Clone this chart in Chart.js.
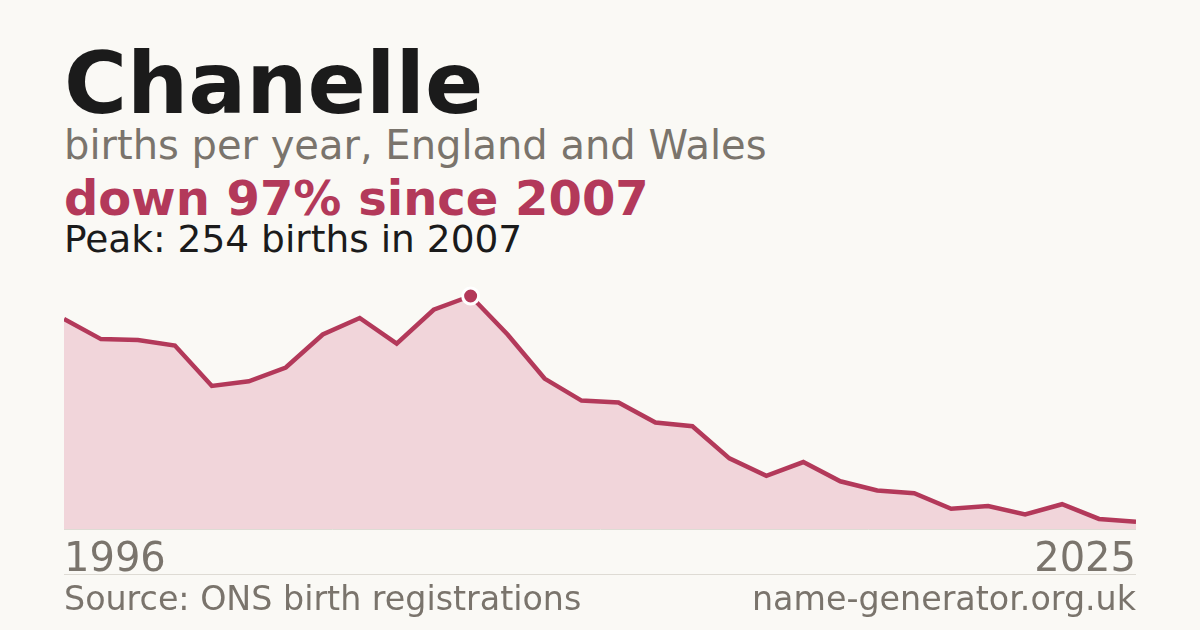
<!DOCTYPE html>
<html>
<head>
<meta charset="utf-8">
<script src="https://cdn.jsdelivr.net/npm/chart.js@4"></script>
<style>
  body { margin:0; width:1200px; height:630px; background:#faf9f5; font-family:"DejaVu Sans", sans-serif; overflow:hidden; position:relative; }
  .t { position:absolute; left:64px; white-space:nowrap; line-height:1; }
  #title { top:40px; font-size:86px; font-weight:bold; color:#1b1b1b; }
  #sub { top:125px; font-size:40px; color:#7a746c; }
  #change { top:174px; font-size:48px; font-weight:bold; color:#b3395a; }
  #peak { top:221px; font-size:37.5px; color:#1b1b1b; }
  #wrap { position:absolute; left:64px; top:280px; width:1072px; height:305px; }
  #rule { position:absolute; left:64px; top:574px; width:1072px; height:1px; background:#dedbd4; }
  #src { top:582px; font-size:33.3px; color:#7a746c; }
  #site { top:582px; left:auto; right:64px; font-size:33.3px; color:#7a746c; }
</style>
</head>
<body>
<div class="t" id="title">Chanelle</div>
<div class="t" id="sub">births per year, England and Wales</div>
<div class="t" id="change">down 97% since 2007</div>
<div class="t" id="peak">Peak: 254 births in 2007</div>
<div id="wrap"><canvas id="chart1"></canvas></div>
<div id="rule"></div>
<div class="t" id="src">Source: ONS birth registrations</div>
<div class="t" id="site">name-generator.org.uk</div>
<script>
let years = [1996, 1997, 1998, 1999, 2000, 2001, 2002, 2003, 2004, 2005,
  2006, 2007, 2008, 2009, 2010, 2011, 2012, 2013, 2014, 2015,
  2016, 2017, 2018, 2019, 2020, 2021, 2022, 2023, 2024, 2025];
let births = [229, 207, 206, 200, 156, 161, 176, 212, 230, 202,
  239, 254, 212, 164, 140, 138, 116, 112, 77, 58,
  73, 52, 42, 39, 22, 25, 16, 27, 11, 8];
let peakYear = 2007;

let lineColor = '#b3395a';

let chart1 = document.getElementById('chart1').getContext('2d');

let birthsChart = new Chart(chart1, {
type:'line',
data:{
labels:years,
datasets:[{
data:births,
borderColor:lineColor,
borderWidth:4.5,
backgroundColor:'#f1d5da',
fill:'origin',
tension:0,
clip:false,
pointRadius:years.map(y => y === peakYear ? 8 : 0),
pointBackgroundColor:lineColor,
pointBorderColor:'#ffffff',
pointBorderWidth:3,
pointHoverRadius:0
}]
},
options:{
responsive:true,
maintainAspectRatio:false,
animation:false,
layout:{ padding:{ top:16, left:0, right:0, bottom:0 } },
plugins:{ legend:{ display:false }, tooltip:{ enabled:false } },
scales:{
y:{ display:false, min:0, max:254 },
x:{
offset:false,
grid:{ display:false, drawTicks:true, tickLength:8 },
border:{ display:true, color:'#dedbd4', width:1 },
ticks:{
autoSkip:false,
maxRotation:0,
align:'inner',
padding:0,
color:'#7a746c',
font:{ family:"DejaVu Sans", size:40 },
callback:function(v, i) {
  return (i === 0 || i === years.length - 1) ? years[i] : '';
}
}
}
}
}
});
</script>
</body>
</html>
